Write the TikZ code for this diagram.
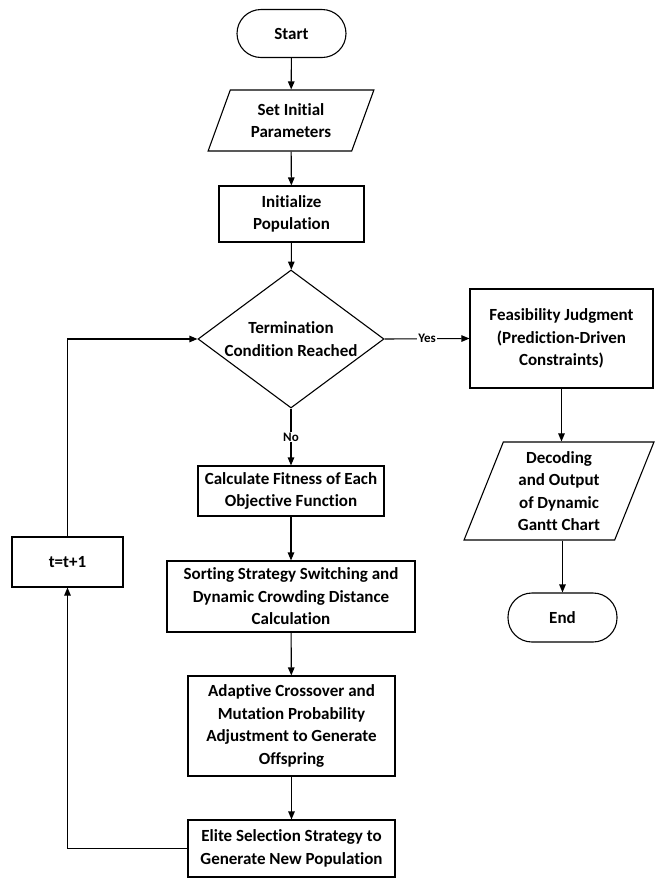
\documentclass[tikz,border=0pt]{standalone}
\usepackage{fontspec}
\setmainfont{Carlito}[Ligatures={NoCommon,NoContextual,NoRare},Contextuals={NoAlternate}]
\usetikzlibrary{shapes.geometric,arrows.meta}
\tikzset{
  txt/.style={font=\bfseries\fontsize{17}{22.5}\selectfont, align=center, inner sep=0pt},
  boxnode/.style={txt, draw, line width=1.1pt, minimum width=#1},
  termnode/.style={txt, draw, line width=1.1pt, minimum width=109pt, minimum height=48pt, rounded corners=24pt},
  ionode/.style={txt, draw, line width=1.1pt, trapezium, trapezium stretches=true,
     trapezium left angle=#1, trapezium right angle=180-#1},
  decnode/.style={txt, draw, line width=1.1pt, diamond, aspect=1.35},
  conn/.style={line width=1.1pt, -{Triangle[length=8pt,width=6.5pt]}},
  lbl/.style={font=\bfseries\fontsize{13}{15}\selectfont, fill=white, inner sep=1pt}
}
\begin{document}
\begin{tikzpicture}[x=1pt,y=-1pt]
\useasboundingbox (0,0) rectangle (654,879);
\node[termnode] (start) at (291.5,33.5) {Start};
\node[ionode=67, minimum width=166pt, minimum height=61pt] (init) at (291,120.5) {Set Initial\\Parameters};
\node[boxnode=145pt, minimum height=56pt] (pop) at (291.5,214) {Initialize\\Population};
\node[decnode, minimum width=186pt, minimum height=138pt] (term) at (291,339) {Termination\\Condition Reached};
\node[boxnode=183pt, minimum height=99pt] (feas) at (561.5,338.5) {Feasibility Judgment\\(Prediction-Driven\\Constraints)};
\node[ionode=70, minimum width=190pt, minimum height=98pt] (dec) at (559,491) {Decoding\\and Output\\of Dynamic\\Gantt Chart};
\node[termnode, minimum height=49pt] (end) at (562.5,617.5) {End};
\node[boxnode=186pt, minimum height=50pt] (calc) at (291,491) {Calculate Fitness of Each\\Objective Function};
\node[boxnode=248pt, minimum height=71pt] (sort) at (291,596.5) {Sorting Strategy Switching and\\Dynamic Crowding Distance\\Calculation};
\node[boxnode=207pt, minimum height=100pt] (adapt) at (291.5,726) {Adaptive Crossover and\\Mutation Probability\\Adjustment to Generate\\Offspring};
\node[boxnode=207pt, minimum height=57pt] (elite) at (291.5,848.5) {Elite Selection Strategy to\\Generate New Population};
\node[boxnode=111pt, minimum height=50pt] (tbox) at (67.5,562) {t=t+1};

\draw[conn] (start) -- (init);
\draw[conn] (init) -- (pop);
\draw[conn] (pop) -- (term);
\draw[conn] (term.east) -- node[lbl] {Yes} (feas.west);
\draw[conn] (term.south) -- node[lbl] {No} (calc.north);
\draw[conn] (feas.south) -- (feas.south |- dec.north);
\draw[conn] (dec.south -| end.north) -- (end.north);
\draw[conn] (calc) -- (sort);
\draw[conn] (sort) -- (adapt);
\draw[conn] (adapt) -- (elite);
\draw[conn] (elite.west) -| (tbox.south);
\draw[conn] (tbox.north) |- (term.west);
\end{tikzpicture}
\end{document}
